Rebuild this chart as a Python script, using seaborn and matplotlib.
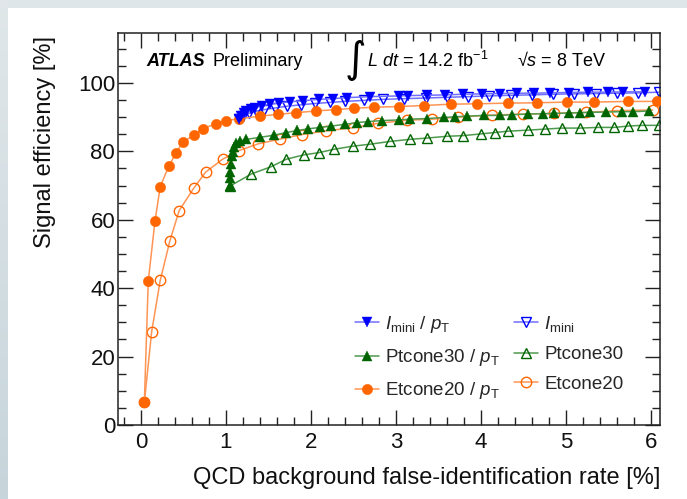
import numpy as np
import pandas as pd
import matplotlib
matplotlib.use("Agg")
import matplotlib.pyplot as plt
from matplotlib.lines import Line2D
from matplotlib.ticker import MultipleLocator
import seaborn as sns

# ---------------- data ----------------
imini_pt_x = [1.15, 1.18, 1.21, 1.24, 1.29, 1.34, 1.42, 1.52, 1.62, 1.75, 1.91, 2.09, 2.26,
              2.42, 2.69, 3.03, 3.14, 3.36, 3.58, 3.79, 4.01, 4.22, 4.42, 4.62, 4.81, 5.03,
              5.26, 5.50, 5.67, 5.93]
imini_pt_y = [89.6, 90.4, 91.1, 91.8, 92.3, 92.8, 93.3, 93.8, 94.1, 94.5, 94.8, 95.2, 95.4,
              95.7, 96.0, 96.2, 96.3, 96.4, 96.5, 96.7, 96.8, 96.9, 97.0, 97.0, 97.1, 97.2,
              97.3, 97.3, 97.4, 97.4]

imini_x = [1.15, 1.20, 1.27, 1.35, 1.45, 1.58, 1.72, 1.88, 2.05, 2.22, 2.40, 2.62, 2.85,
           3.10, 3.35, 3.60, 3.85, 4.10, 4.35, 4.60, 4.85, 5.10, 5.35, 5.60, 5.85, 6.09]
imini_y = [89.6, 90.4, 91.1, 91.7, 92.2, 92.7, 93.2, 93.6, 94.0, 94.3, 94.6, 94.9, 95.2,
           95.4, 95.6, 95.8, 96.0, 96.2, 96.4, 96.5, 96.7, 96.8, 96.9, 97.0, 97.1, 97.3]

ptc_pt_x = [1.05, 1.05, 1.05, 1.055, 1.07, 1.08, 1.09, 1.12, 1.16, 1.24, 1.40, 1.56, 1.71,
            1.84, 1.97, 2.11, 2.24, 2.40, 2.54, 2.67, 2.84, 3.04, 3.16, 3.37, 3.56, 3.69,
            3.83, 4.03, 4.22, 4.36, 4.55, 4.73, 4.86, 5.03, 5.16, 5.28, 5.47, 5.66, 5.79, 5.98]
ptc_pt_y = [69.9, 72.1, 74.1, 76.3, 78.5, 79.9, 81.2, 82.3, 83.0, 83.5, 84.1, 84.7, 85.5,
            86.1, 86.6, 87.0, 87.4, 87.9, 88.4, 88.7, 89.0, 89.2, 89.4, 89.6, 89.9, 90.1,
            90.3, 90.5, 90.5, 90.7, 90.9, 91.0, 91.1, 91.2, 91.3, 91.4, 91.5, 91.6, 91.6, 91.8]

ptc_x = [1.05, 1.30, 1.53, 1.71, 1.92, 2.09, 2.27, 2.49, 2.70, 2.93, 3.16, 3.37, 3.60,
         3.79, 4.00, 4.16, 4.32, 4.55, 4.75, 4.95, 5.16, 5.38, 5.57, 5.73, 5.90, 6.09]
ptc_y = [69.9, 73.4, 75.5, 77.7, 79.0, 79.6, 80.6, 81.5, 82.1, 82.9, 83.5, 83.9, 84.4,
         84.6, 85.1, 85.5, 85.9, 86.2, 86.5, 86.8, 86.8, 87.0, 87.0, 87.4, 87.6, 87.6]

etc_pt_x = [0.04, 0.086, 0.165, 0.227, 0.326, 0.41, 0.49, 0.62, 0.73, 0.88, 1.00, 1.15, 1.40,
            1.61, 1.82, 2.06, 2.29, 2.51, 2.74, 3.03, 3.33, 3.65, 3.95, 4.32, 4.66, 5.01,
            5.33, 5.73, 6.07]
etc_pt_y = [6.6, 42.1, 59.6, 69.7, 75.6, 79.4, 82.6, 84.7, 86.6, 88.1, 89.0, 89.5, 90.3,
            90.8, 91.3, 91.8, 92.2, 92.6, 92.9, 93.1, 93.4, 93.8, 93.9, 94.1, 94.2, 94.4,
            94.4, 94.6, 94.6]

etc_x = [0.04, 0.126, 0.227, 0.34, 0.45, 0.62, 0.76, 0.96, 1.15, 1.38, 1.64, 1.89, 2.18,
         2.49, 2.79, 3.13, 3.42, 3.73, 4.13, 4.49, 4.86, 5.24, 5.60, 6.02]
etc_y = [6.6, 27.3, 42.3, 53.8, 62.7, 69.2, 73.9, 77.7, 80.2, 82.2, 83.6, 84.9, 86.0,
         86.9, 88.2, 89.1, 89.4, 90.0, 90.6, 90.9, 91.1, 91.4, 91.9, 92.1]

x_ticks = [0, 1, 2, 3, 4, 5, 6]
y_ticks = [0, 20, 40, 60, 80, 100]

labels = [r"$I_{\mathrm{mini}}$ / $p_{\mathrm{T}}$", r"$I_{\mathrm{mini}}$",
          r"Ptcone30 / $p_{\mathrm{T}}$", "Ptcone30",
          r"Etcone20 / $p_{\mathrm{T}}$", "Etcone20"]

# ---------------- style ----------------
sns.set_theme(style="ticks")
plt.rcParams['font.family'] = ['Liberation Sans', 'DejaVu Sans']
plt.rcParams['mathtext.fontset'] = 'custom'
plt.rcParams['mathtext.rm'] = 'Liberation Sans'
plt.rcParams['mathtext.it'] = 'Liberation Sans:italic'
plt.rcParams['mathtext.bf'] = 'Liberation Sans:bold'

W, H = 687, 499
fig = plt.figure(figsize=(W / 100, H / 100), dpi=100)
fig.patch.set_facecolor('white')

# decorative background border
bg = fig.add_axes([0, 0, 1, 1], zorder=-10)
img = np.ones((H, W, 3))
img[:8, :, :] = [0.875, 0.902, 0.914]
g = np.linspace(0, 1, H)[:, None]
leftcol = np.array([0.88, 0.905, 0.915]) * (1 - g) + np.array([0.78, 0.835, 0.86]) * g
img[:, :8, :] = leftcol[:, None, :]
bg.imshow(img, aspect='auto', extent=[0, 1, 0, 1])
bg.axis('off')

x0, x1 = 118, 660
y0, y1 = 33, 425
ax = fig.add_axes([x0 / W, 1 - y1 / H, (x1 - x0) / W, (y1 - y0) / H])
ax.set_facecolor('none')

BLUE, BLUE_L = '#0000ff', '#6f6fff'
GREEN, GREEN_L = '#006400', '#4e9a4e'
ORANGE, ORANGE_L = '#ff6600', '#ff9454'


def draw(x, y, color, lcolor, marker, filled, ms, z):
    df = pd.DataFrame({'x': x, 'y': y})
    sns.lineplot(data=df, x='x', y='y', ax=ax, color=lcolor, lw=1.1, sort=False,
                 estimator=None, legend=False, zorder=z)
    sns.lineplot(data=df, x='x', y='y', ax=ax, color=color, marker=marker, linestyle='',
                 markersize=ms, markerfacecolor=(color if filled else 'none'),
                 markeredgecolor=color, markeredgewidth=(0.3 if filled else 1.0),
                 sort=False, estimator=None, legend=False, zorder=z + 0.5)


draw(etc_x, etc_y, ORANGE, ORANGE_L, 'o', False, 7.5, 2)
draw(ptc_x, ptc_y, GREEN, GREEN_L, '^', False, 7, 2)
draw(imini_x, imini_y, BLUE, BLUE_L, 'v', False, 7, 2)
draw(etc_pt_x, etc_pt_y, ORANGE, ORANGE_L, 'o', True, 7.5, 3)
draw(ptc_pt_x, ptc_pt_y, GREEN, GREEN_L, '^', True, 7, 3)
draw(imini_pt_x, imini_pt_y, BLUE, BLUE_L, 'v', True, 7, 3)

ax.set_xlim(-0.27, 6.106)
ax.set_ylim(0, 114.6)
ax.set_xticks(x_ticks)
ax.set_xticklabels([str(v) for v in x_ticks])
ax.set_yticks(y_ticks)
ax.set_yticklabels([str(v) for v in y_ticks])
ax.xaxis.set_minor_locator(MultipleLocator(0.2))
ax.yaxis.set_minor_locator(MultipleLocator(5))

ax.tick_params(which='both', direction='in', top=True, right=True, color='#222222',
               width=1.0, labelcolor='#111111', labelsize=16)
ax.tick_params(which='major', length=10.5)
ax.tick_params(which='minor', length=5.5)
ax.tick_params(axis='y', pad=2)
ax.tick_params(axis='x', pad=5)
for s in ax.spines.values():
    s.set_linewidth(1.1)
    s.set_color('#222222')

ax.set_xlabel("QCD background false-identification rate [%]", fontsize=17,
              ha='right', va='center', color='#111111')
ax.xaxis.set_label_coords(1.0, (y1 - 478) / (y1 - y0))
ax.set_ylabel("Signal efficiency [%]", fontsize=17, ha='right', va='center', color='#111111')
ax.yaxis.set_label_coords((45 - x0) / (x1 - x0), (y1 - 36) / (y1 - y0))

# header texts
def fx(px):
    return px / W

def fy(py):
    return 1 - py / H

fig.text(fx(146), fy(61), "ATLAS", fontsize=13, fontweight='bold', fontstyle='italic',
         va='center', ha='left', color='black')
fig.text(fx(213), fy(61), "Preliminary", fontsize=13, va='center', ha='left', color='black')
fig.text(fx(366), fy(60), "\u222b", fontsize=30, va='center', ha='right', color='black',
         family=['DejaVu Sans'])
fig.text(fx(367), fy(61), r"$L$ $dt$ = 14.2 fb$^{-1}$", fontsize=13, va='center', ha='left',
         color='black')
fig.text(fx(517), fy(61), "\u221a$s$ = 8 TeV", fontsize=13, va='center', ha='left',
         color='black')

# legend
def h(color, lcolor, marker, filled, ms):
    return Line2D([0], [0], color=lcolor, lw=1.1, marker=marker, markersize=ms,
                  markerfacecolor=(color if filled else 'none'), markeredgecolor=color,
                  markeredgewidth=(0.3 if filled else 1.0))

handles = [h(BLUE, BLUE_L, 'v', True, 7), h(GREEN, GREEN_L, '^', True, 7),
           h(ORANGE, ORANGE_L, 'o', True, 7.5),
           h(BLUE, BLUE_L, 'v', False, 7), h(GREEN, GREEN_L, '^', False, 7),
           h(ORANGE, ORANGE_L, 'o', False, 7.5)]
leg_labels = [labels[0], labels[2], labels[4], labels[1], labels[3], labels[5]]
ax.legend(handles, leg_labels, ncol=2, frameon=False, fontsize=13.5,
          loc='upper left', bbox_to_anchor=((355 - x0) / (x1 - x0), (y1 - 314) / (y1 - y0)),
          borderaxespad=0, borderpad=0, handlelength=1.3, handletextpad=0.3,
          columnspacing=0.75, labelspacing=0.65)

fig.savefig("out.png", dpi=100)
